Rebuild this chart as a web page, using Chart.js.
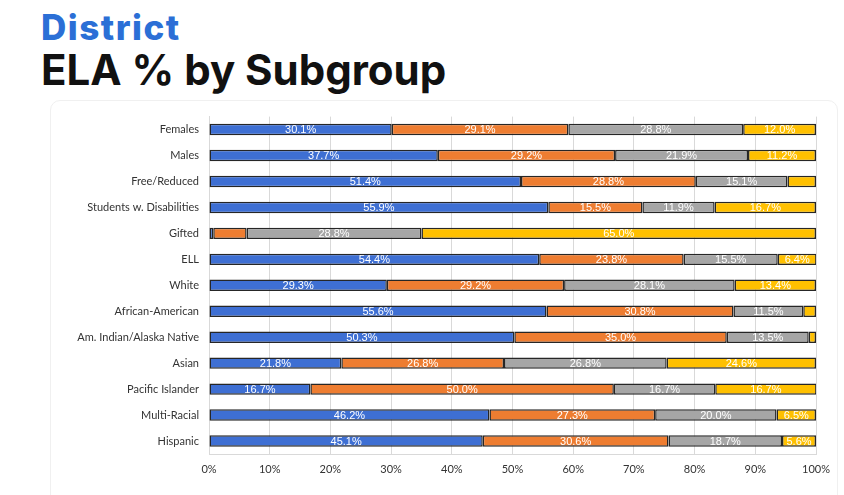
<!DOCTYPE html>
<html lang="en">
<head>
  <meta charset="UTF-8" />
  <title>District ELA % by Subgroup</title>
  <script src="https://cdn.jsdelivr.net/npm/chart.js"></script>
  <style>
    body {
      margin: 0;
      background: #fff;
      width: 844px;
      height: 495px;
      overflow: hidden;
      position: relative;
      font-family: Inter, "Open Sans", sans-serif;
    }
    #titulo1 {
      position: absolute;
      left: 41px;
      top: 6px;
      font-size: 35px;
      font-weight: 800;
      color: #2b6fd6;
      letter-spacing: 1.5px;
    }
    #titulo2 {
      position: absolute;
      left: 41px;
      top: 44px;
      font-size: 42px;
      font-weight: 700;
      color: #111;
    }
    #moldura {
      position: absolute;
      left: 50px;
      top: 100px;
      width: 786px;
      height: 420px;
      border: 1px solid #f0f0f0;
      border-radius: 10px;
    }
    #grafico-container {
      position: absolute;
      left: 0;
      top: 100px;
      width: 844px;
      height: 395px;
    }
  </style>
</head>
<body>
  <div id="titulo1">District</div>
  <div id="titulo2">ELA % by Subgroup</div>
  <div id="moldura"></div>
  <div id="grafico-container">
    <canvas id="graficoELA"></canvas>
  </div>
  <script>
    const subgrupos = ['Females', 'Males', 'Free/Reduced', 'Students w. Disabilities', 'Gifted', 'ELL', 'White',
      'African-American', 'Am. Indian/Alaska Native', 'Asian', 'Pacific Islander', 'Multi-Racial', 'Hispanic'];

    const nivel1 = [30.1, 37.7, 51.4, 55.9, 0.7, 54.4, 29.3, 55.6, 50.3, 21.8, 16.7, 46.2, 45.1];
    const nivel2 = [29.1, 29.2, 28.8, 15.5, 5.5, 23.8, 29.2, 30.8, 35.0, 26.8, 50.0, 27.3, 30.6];
    const nivel3 = [28.8, 21.9, 15.1, 11.9, 28.8, 15.5, 28.1, 11.5, 13.5, 26.8, 16.7, 20.0, 18.7];
    const nivel4 = [12.0, 11.2, 4.7, 16.7, 65.0, 6.4, 13.4, 2.1, 1.2, 24.6, 16.7, 6.5, 5.6];

    const ticksX = [0, 10, 20, 30, 40, 50, 60, 70, 80, 90, 100];

    const cores = ['#3e6fd3', '#ee7d31', '#a6a6a6', '#ffc000'];

    // rotulos brancos dentro das barras (so quando cabe)
    const rotulos = {
      id: 'rotulos',
      afterDatasetsDraw(chart) {
        const ctx = chart.ctx;
        ctx.save();
        ctx.font = '11px "Liberation Sans", Arial, sans-serif';
        ctx.fillStyle = '#ffffff';
        ctx.textAlign = 'center';
        ctx.textBaseline = 'middle';
        chart.data.datasets.forEach((ds, i) => {
          const meta = chart.getDatasetMeta(i);
          meta.data.forEach((bar, j) => {
            const v = ds.data[j];
            if (v < 5.6) return;
            ctx.fillText(v.toFixed(1) + '%', (bar.x + bar.base) / 2, bar.y + 0.5);
          });
        });
        ctx.restore();
      }
    };

    const series = [nivel1, nivel2, nivel3, nivel4].map((d, i) => ({
      label: 'Nível ' + (i + 1),
      data: d,
      backgroundColor: cores[i],
      borderColor: '#262626',
      borderWidth: 1.5,
      borderSkipped: false,
      categoryPercentage: 1,
      barPercentage: 0.44
    }));

    new Chart(document.getElementById('graficoELA'), {
      type: 'bar',
      data: { labels: subgrupos, datasets: series },
      plugins: [rotulos],
      options: {
        indexAxis: 'y',
        responsive: true,
        maintainAspectRatio: false,
        animation: false,
        layout: { padding: { top: 9, right: 28, bottom: 0, left: 0 } },
        plugins: {
          legend: { display: false },
          tooltip: { enabled: false }
        },
        scales: {
          x: {
            stacked: true,
            min: 0,
            max: 100,
            afterBuildTicks: s => { s.ticks = ticksX.map(v => ({ value: v })); },
            afterFit: s => { s.height = 41; },
            grid: { color: '#d9d9d9', drawTicks: false },
            border: { color: '#d9d9d9' },
            ticks: {
              padding: 9,
              color: '#333',
              font: { family: 'Lato, "Liberation Sans", sans-serif', size: 11 },
              callback: v => v + '%'
            }
          },
          y: {
            stacked: true,
            afterFit: s => { s.width = 209; },
            grid: { display: false, drawTicks: false },
            border: { color: '#d9d9d9' },
            ticks: {
              padding: 10,
              color: '#333',
              font: { family: 'Lato, "Liberation Sans", sans-serif', size: 11 }
            }
          }
        }
      }
    });
  </script>
</body>
</html>
